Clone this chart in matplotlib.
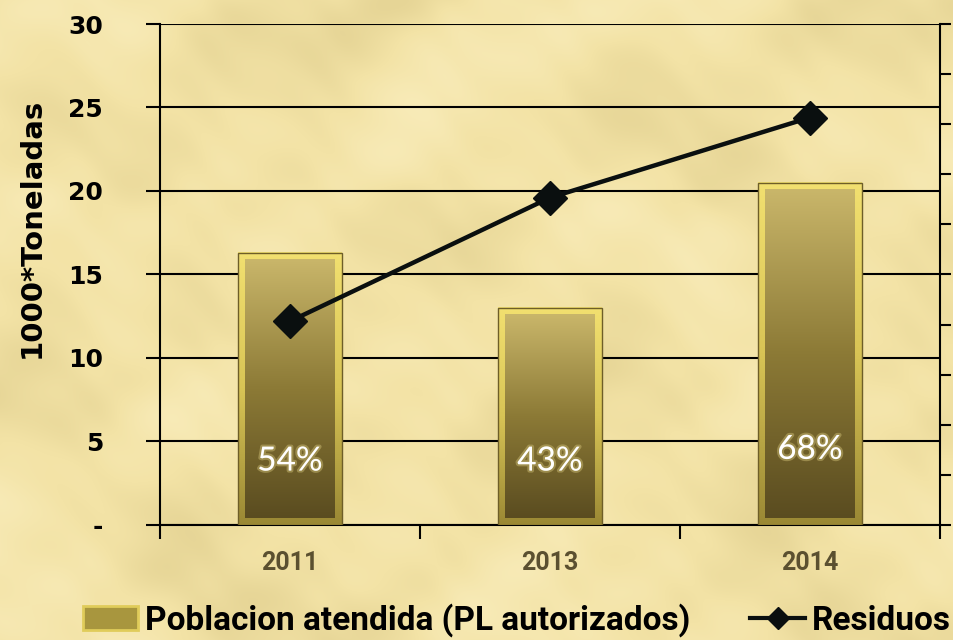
import matplotlib
matplotlib.use('Agg')
import matplotlib.pyplot as plt
import matplotlib.patheffects as pe
from matplotlib.patches import Patch
from matplotlib.lines import Line2D
from matplotlib.colors import LinearSegmentedColormap
import numpy as np

# data
years = ['2011', '2013', '2014']
poblacion = [16.3, 13.0, 20.5]      # bars, 1000*Toneladas
residuos = [12.2, 19.6, 24.4]       # line
pct_labels = ['54%', '43%', '68%']
pct_y = [3.8, 3.8, 4.5]
y_ticks = [0, 5, 10, 15, 20, 25, 30]
y_ticklabels = ['-', '5', '10', '15', '20', '25', '30']

COND = ['Roboto', 'DejaVu Sans']
BOLD = ['DejaVu Sans']

fig = plt.figure(figsize=(9.54, 6.4), dpi=100)

# parchment background
h, w = 640, 954
yy, xx = np.mgrid[0:h, 0:w]
tex = (np.sin(xx / 83.0 + 2.5 * np.sin(yy / 71.0))
       + np.sin(yy / 47.0 + 2.5 * np.cos(xx / 97.0))
       + 0.5 * np.sin((xx + 0.7 * yy) / 23.0 + np.sin(yy / 31.0))
       + 0.3 * np.sin((xx - 1.3 * yy) / 13.0 + np.cos(xx / 19.0)))
tex = (tex - tex.min()) / (tex.max() - tex.min())
parch = LinearSegmentedColormap.from_list('parch', ['#e6d596', '#f3e3a6', '#f8ebb8'])
bg = fig.add_axes([0, 0, 1, 1], zorder=-10)
bg.imshow(tex, cmap=parch, aspect='auto', interpolation='bilinear')
bg.axis('off')

ax = fig.add_axes([0.1677, 0.1797, 0.8176, 0.7828])
ax.set_facecolor('none')

x = np.arange(len(years))
bars = ax.bar(x, poblacion, width=0.4, color='none', edgecolor='#6e5e28',
              lw=1, zorder=4)

bevel = LinearSegmentedColormap.from_list('bevel', ['#9a8834', '#d8c455', '#f2e070'])
inner = LinearSegmentedColormap.from_list('inner', ['#5a4c20', '#8c7a36', '#c9b66a'])
grad = np.linspace(0, 1, 256).reshape(-1, 1)
dx, dy = 0.027, 0.42
for b in bars:
    x0, x1 = b.get_x(), b.get_x() + b.get_width()
    top = b.get_height()
    ax.imshow(grad, extent=[x0, x1, 0, top], origin='lower', cmap=bevel,
              aspect='auto', zorder=3)
    ax.imshow(grad, extent=[x0 + dx, x1 - dx, dy, top - dy], origin='lower',
              cmap=inner, aspect='auto', zorder=3.5)

ax.plot(x, residuos, color='#0a0f0f', lw=3.2, marker='D', ms=17, zorder=6)

for i, lab in enumerate(pct_labels):
    ax.text(x[i], pct_y[i], lab, ha='center', va='center', color='white',
            fontsize=24, family=['Lato', 'DejaVu Sans'], zorder=7,
            path_effects=[pe.withStroke(linewidth=3, foreground='#c8b870', alpha=0.5)])

ax.set_xlim(-0.5, 2.5)
ax.set_ylim(0, 30)
ax.set_yticks(y_ticks)
ax.set_yticklabels(y_ticklabels, fontsize=18, fontweight='bold', family=BOLD)
ax.tick_params(axis='y', length=10, width=1.5, pad=31, colors='black')
ax.set_xticks([-0.5, 0.5, 1.5, 2.5])
ax.set_xticklabels([])
ax.tick_params(axis='x', which='major', length=10, width=1.5)
ax.set_xticks(x, minor=True)
ax.set_xticklabels(years, minor=True, fontsize=18, fontweight='bold',
                   family=COND, color='#5b5030')
ax.tick_params(axis='x', which='minor', length=0, pad=19)

ax.yaxis.grid(True, color='black', lw=1.5)
ax.set_axisbelow(True)
for s in ['top', 'right']:
    ax.spines[s].set_visible(False)
for s in ['left', 'bottom']:
    ax.spines[s].set_linewidth(1.5)

ax.set_ylabel('1000*Toneladas', fontsize=21, fontweight='bold', family=BOLD)
ax.yaxis.set_label_coords(-0.147, 0.593)

ax2 = ax.twinx()
ax2.set_facecolor('none')
ax2.set_ylim(0, 10)
ax2.set_yticks(range(11))
ax2.set_yticklabels([])
ax2.tick_params(axis='y', length=8, width=1.5)
for s in ['top', 'left', 'bottom']:
    ax2.spines[s].set_visible(False)
ax2.spines['right'].set_linewidth(1.5)

handles = [Patch(facecolor='#a8963e', edgecolor='#e0cc5a', lw=2),
           Line2D([], [], color='#0a0f0f', lw=3, marker='D', ms=11)]
fig.legend(handles=handles,
           labels=['Poblacion atendida (PL autorizados)', 'Residuos'],
           loc='center', bbox_to_anchor=(0.542, 0.031), ncol=2, frameon=False,
           prop=dict(family=COND, weight='bold', size=24),
           handlelength=1.65, handletextpad=0.2, columnspacing=1.8,
           borderaxespad=0, borderpad=0)

fig.savefig('out.png', dpi=100)
